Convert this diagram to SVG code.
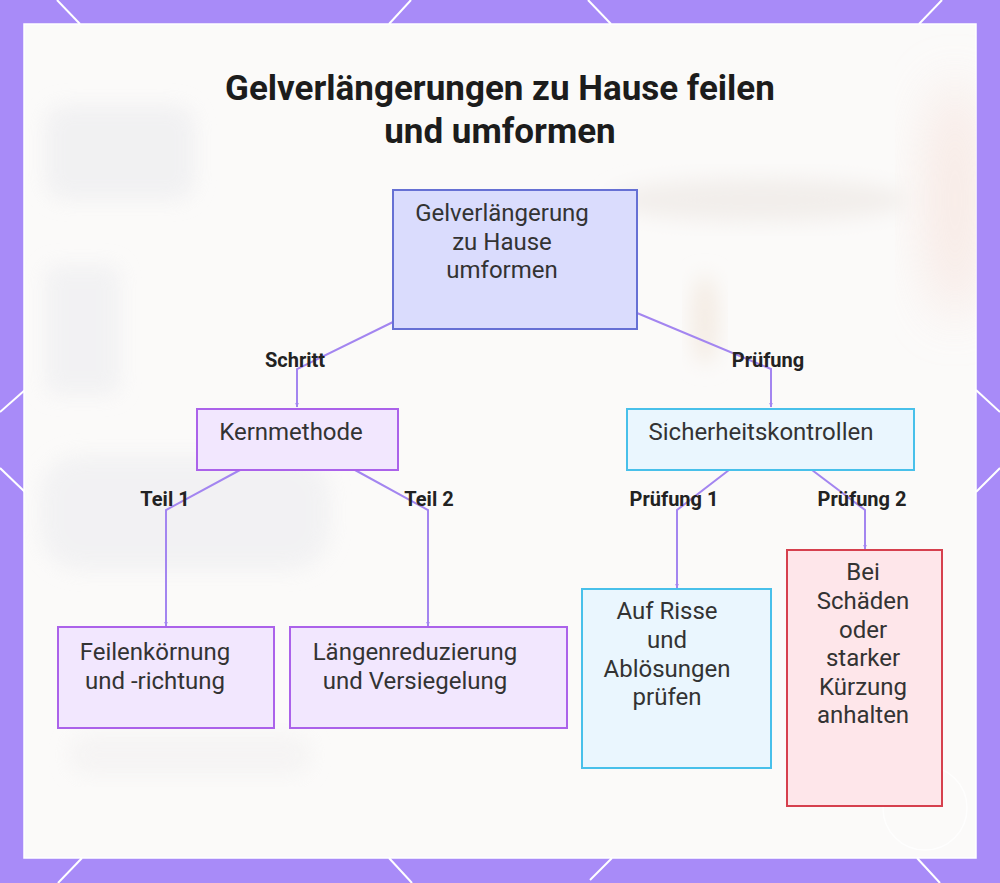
<svg xmlns="http://www.w3.org/2000/svg" width="1000" height="883" viewBox="0 0 1000 883">
  <defs>
    <style>
      .title { font-family: Roboto, "Liberation Sans", sans-serif; font-weight: 700; font-size: 35px; fill: #1c1c1c; text-anchor: middle; }
      .nt { font-family: Roboto, "Liberation Sans", sans-serif; font-size: 24px; fill: #333333; text-anchor: middle; }
      .lbl { font-family: Roboto, "Liberation Sans", sans-serif; font-weight: 700; font-size: 20px; fill: #222222; text-anchor: middle; }
      .edge { fill: none; stroke: #a385f0; stroke-width: 2; }
      .deco { stroke: #ffffff; stroke-width: 2; fill: none; }
      .n-main { fill: #dadcfd; stroke: #6670d4; stroke-width: 2; }
      .n-purple { fill: #f2e7fe; stroke: #ab62ea; stroke-width: 2; }
      .n-cyan { fill: #eaf6fe; stroke: #48c0ea; stroke-width: 2; }
      .n-red { fill: #fee6ea; stroke: #d6404e; stroke-width: 2; }
    </style>
    <marker id="arr" viewBox="0 0 10 10" refX="9" refY="5" markerWidth="5" markerHeight="5" orient="auto" markerUnits="userSpaceOnUse">
      <path d="M0,1 L10,5 L0,9 z" fill="#a385f0"/>
    </marker>
    <filter id="blur" x="-50%" y="-50%" width="200%" height="200%">
      <feGaussianBlur stdDeviation="25"/>
    </filter>
    <filter id="blur2" x="-30%" y="-30%" width="160%" height="160%">
      <feGaussianBlur stdDeviation="10"/>
    </filter>
    <clipPath id="panelClip">
      <rect x="24" y="24" width="952" height="834"/>
    </clipPath>
  </defs>

  <!-- border -->
  <rect x="0" y="0" width="1000" height="883" fill="#a88bf8"/>
  <g id="border-pattern" class="deco">
    <line x1="57" y1="0" x2="80" y2="24"/>
    <line x1="411" y1="0" x2="389" y2="24"/>
    <line x1="588" y1="0" x2="611" y2="24"/>
    <line x1="942" y1="0" x2="919" y2="24"/>
    <line x1="58" y1="883" x2="82" y2="858"/>
    <line x1="412" y1="883" x2="389" y2="858"/>
    <line x1="590" y1="880" x2="612" y2="858"/>
    <line x1="940" y1="883" x2="917" y2="858"/>
    <line x1="0" y1="412" x2="25" y2="390"/>
    <line x1="0" y1="468" x2="25" y2="492"/>
    <line x1="1000" y1="412" x2="976" y2="390"/>
    <line x1="1000" y1="468" x2="976" y2="492"/>
  </g>

  <!-- panel -->
  <rect x="24" y="24" width="952" height="834" fill="#fbfaf9" stroke="#ffffff" stroke-width="1.5"/>
  <g id="background-blur" clip-path="url(#panelClip)">
    <ellipse cx="955" cy="200" rx="30" ry="120" fill="#f6e2dc" filter="url(#blur)" opacity="0.7"/>
    <ellipse cx="760" cy="200" rx="150" ry="22" fill="#f2eeeb" filter="url(#blur2)"/>
    <ellipse cx="705" cy="320" rx="14" ry="45" fill="#f4ece4" filter="url(#blur2)"/>
    <rect x="45" y="105" width="150" height="95" rx="20" fill="#efeff1" filter="url(#blur2)" opacity="0.8"/>
    <rect x="45" y="265" width="75" height="130" rx="10" fill="#f0f0f2" filter="url(#blur2)" opacity="0.8"/>
    <rect x="40" y="455" width="290" height="115" rx="40" fill="#f0f0f2" filter="url(#blur2)" opacity="0.8"/>
    <rect x="70" y="735" width="240" height="40" rx="15" fill="#f4f3f3" filter="url(#blur2)" opacity="0.8"/>
    <circle cx="925" cy="808" r="42" fill="none" stroke="#ffffff" stroke-width="1.5" opacity="0.8"/>
  </g>

  <!-- title -->
  <g id="title">
    <text class="title" x="500" y="100">Gelverlängerungen zu Hause feilen</text>
    <text class="title" x="500" y="143">und umformen</text>
  </g>

  <!-- connectors -->
  <g id="connectors">
    <path class="edge" d="M393,322 L297,369 L297,407" marker-end="url(#arr)"/>
    <path class="edge" d="M637,313 L771,369 L771,407" marker-end="url(#arr)"/>
    <path class="edge" d="M240,470 L166,510 L166,626" marker-end="url(#arr)"/>
    <path class="edge" d="M355,470 L428,510 L428,626" marker-end="url(#arr)"/>
    <path class="edge" d="M729,470 L677,510 L677,588" marker-end="url(#arr)"/>
    <path class="edge" d="M812,470 L865,510 L865,549" marker-end="url(#arr)"/>
    <text class="lbl" x="295" y="367">Schritt</text>
    <text class="lbl" x="768" y="367">Prüfung</text>
    <text class="lbl" x="165" y="506">Teil 1</text>
    <text class="lbl" x="429" y="506">Teil 2</text>
    <text class="lbl" x="674" y="506">Prüfung 1</text>
    <text class="lbl" x="862" y="506">Prüfung 2</text>
  </g>

  <!-- nodes -->
  <g id="node-root">
    <rect class="n-main" x="393" y="190" width="244" height="139"/>
    <text class="nt" x="502" y="221">Gelverlängerung</text>
    <text class="nt" x="502" y="250">zu Hause</text>
    <text class="nt" x="502" y="278">umformen</text>
  </g>
  <g id="node-kernmethode">
    <rect class="n-purple" x="197" y="409" width="201" height="61"/>
    <text class="nt" x="291" y="440">Kernmethode</text>
  </g>
  <g id="node-sicherheit">
    <rect class="n-cyan" x="627" y="409" width="287" height="61"/>
    <text class="nt" x="761" y="440">Sicherheitskontrollen</text>
  </g>
  <g id="node-feilen">
    <rect class="n-purple" x="58" y="627" width="216" height="101"/>
    <text class="nt" x="155" y="660">Feilenkörnung</text>
    <text class="nt" x="155" y="689">und -richtung</text>
  </g>
  <g id="node-laengen">
    <rect class="n-purple" x="290" y="627" width="277" height="101"/>
    <text class="nt" x="415" y="660">Längenreduzierung</text>
    <text class="nt" x="415" y="689">und Versiegelung</text>
  </g>
  <g id="node-risse">
    <rect class="n-cyan" x="582" y="589" width="189" height="179"/>
    <text class="nt" x="667" y="619">Auf Risse</text>
    <text class="nt" x="667" y="648">und</text>
    <text class="nt" x="667" y="677">Ablösungen</text>
    <text class="nt" x="667" y="705">prüfen</text>
  </g>
  <g id="node-anhalten">
    <rect class="n-red" x="787" y="550" width="155" height="256"/>
    <text class="nt" x="863" y="580">Bei</text>
    <text class="nt" x="863" y="609">Schäden</text>
    <text class="nt" x="863" y="638">oder</text>
    <text class="nt" x="863" y="666">starker</text>
    <text class="nt" x="863" y="695">Kürzung</text>
    <text class="nt" x="863" y="723">anhalten</text>
  </g>
</svg>
